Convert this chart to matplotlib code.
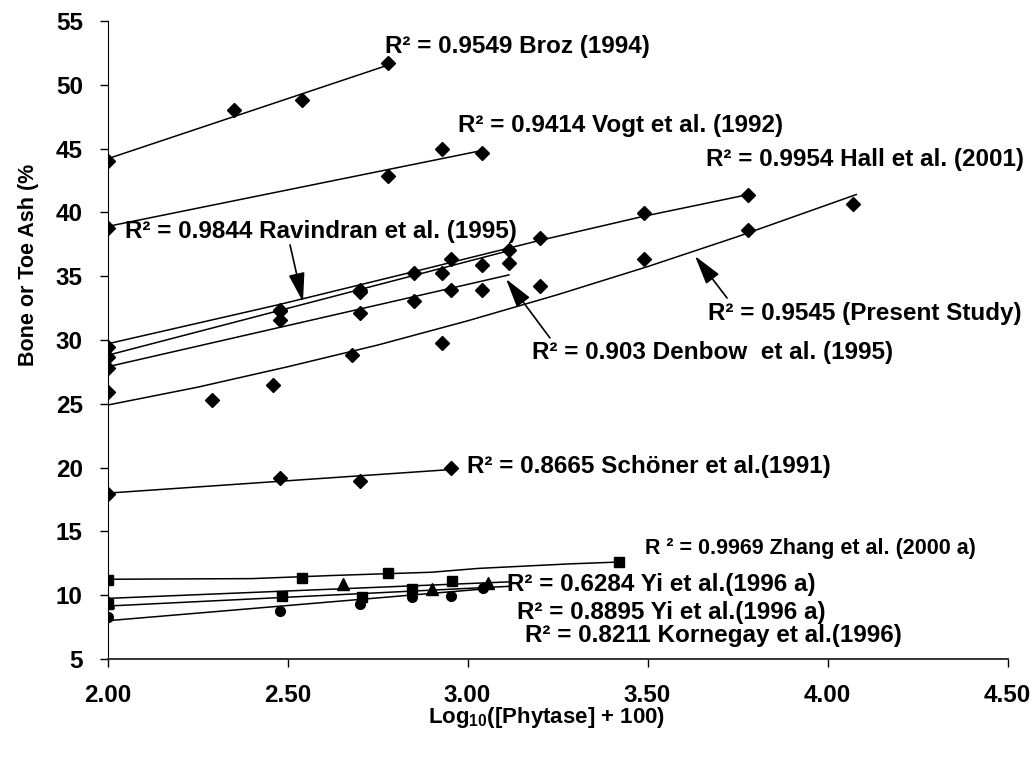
import matplotlib.pyplot as plt
import numpy as np

plt.rcParams['font.family'] = ['Liberation Sans', 'DejaVu Sans']
plt.rcParams['mathtext.fontset'] = 'custom'
plt.rcParams['mathtext.rm'] = 'Liberation Sans'
plt.rcParams['mathtext.bf'] = 'Liberation Sans:bold'

# data points (x = log10(phytase + 100), y = bone or toe ash %)
broz_x = [2.00, 2.35, 2.54, 2.78]
broz_y = [44.0, 48.0, 48.8, 51.7]
vogt_x = [2.00, 2.78, 2.93, 3.04]
vogt_y = [38.8, 42.85, 45.0, 44.65]
hall_x = [2.00, 2.48, 2.70, 2.85, 3.20, 3.49, 3.78]
hall_y = [29.45, 32.35, 33.9, 35.25, 38.0, 39.95, 41.4]
ravindran_x = [2.00, 2.48, 2.70, 2.93, 2.955, 3.04, 3.115]
ravindran_y = [28.7, 32.3, 33.8, 35.25, 36.35, 35.9, 37.05]
denbow_x = [2.00, 2.48, 2.70, 2.85, 2.955, 3.04, 3.115]
denbow_y = [27.8, 31.55, 32.1, 33.05, 33.9, 33.9, 36.0]
present_x = [2.00, 2.29, 2.46, 2.68, 2.93, 3.20, 3.49, 3.78, 4.07]
present_y = [25.9, 25.3, 26.5, 28.8, 29.75, 34.2, 36.35, 38.6, 40.65]
schoner_x = [2.00, 2.48, 2.70, 2.955]
schoner_y = [17.9, 19.15, 18.95, 19.95]
zhang_x = [2.00, 2.54, 2.78, 3.42]
zhang_y = [11.2, 11.35, 11.75, 12.6]
yi_sq_x = [2.00, 2.485, 2.707, 2.846, 2.956]
yi_sq_y = [9.3, 9.95, 9.85, 10.5, 11.1]
yi_tri_x = [2.00, 2.655, 2.90, 3.057]
yi_tri_y = [9.5, 10.9, 10.5, 10.95]
korn_x = [2.00, 2.48, 2.70, 2.846, 2.955, 3.043]
korn_y = [8.3, 8.75, 9.3, 9.85, 9.9, 10.55]

# trendlines
broz_fx, broz_fy = [2.00, 2.78], [44.2, 51.55]
vogt_fx, vogt_fy = [2.00, 3.04], [38.9, 44.85]
hall_fx = [2.00, 2.48, 2.85, 3.20, 3.49, 3.78]
hall_fy = [29.7, 32.8, 35.35, 37.8, 39.7, 41.4]
ravindran_fx, ravindran_fy = [2.00, 3.115], [28.8, 37.0]
denbow_fx, denbow_fy = [2.00, 3.115], [27.9, 35.1]
present_fx = [2.00, 2.25, 2.50, 2.75, 3.00, 3.25, 3.50, 3.75, 4.08]
present_fy = [24.9, 26.3, 27.9, 29.6, 31.5, 33.55, 35.75, 38.1, 41.4]
schoner_fx, schoner_fy = [2.00, 2.955], [18.0, 19.85]
zhang_fx = [2.00, 2.40, 2.63, 2.90, 3.03, 3.28, 3.42]
zhang_fy = [11.25, 11.3, 11.55, 11.8, 12.1, 12.45, 12.6]
yi_sq_fx, yi_sq_fy = [2.00, 3.12], [9.15, 10.7]
yi_tri_fx, yi_tri_fy = [2.00, 3.12], [9.75, 11.05]
korn_fx, korn_fy = [2.00, 3.05], [8.0, 10.5]

fig = plt.figure(figsize=(10.34, 7.59), dpi=100)
ax = fig.add_axes([0.10397, 0.13175, 0.87041, 0.84058])

diamonds = [(broz_x, broz_y), (vogt_x, vogt_y), (hall_x, hall_y),
            (ravindran_x, ravindran_y), (denbow_x, denbow_y),
            (present_x, present_y), (schoner_x, schoner_y)]
for xs, ys in diamonds:
  ax.plot(xs, ys, 'D', color='black', ms=7.5, ls='none')
ax.plot(zhang_x, zhang_y, 's', color='black', ms=7, ls='none')
ax.plot(yi_sq_x, yi_sq_y, 's', color='black', ms=7, ls='none')
ax.plot(yi_tri_x, yi_tri_y, '^', color='black', ms=8, ls='none')
ax.plot(korn_x, korn_y, 'o', color='black', ms=7, ls='none')

fits = [(broz_fx, broz_fy), (vogt_fx, vogt_fy), (hall_fx, hall_fy),
        (ravindran_fx, ravindran_fy), (denbow_fx, denbow_fy),
        (present_fx, present_fy), (schoner_fx, schoner_fy),
        (zhang_fx, zhang_fy), (yi_sq_fx, yi_sq_fy),
        (yi_tri_fx, yi_tri_fy), (korn_fx, korn_fy)]
for xs, ys in fits:
  ax.plot(xs, ys, color='black', lw=1.1)

lab = dict(fontsize=17.5, fontweight='bold', va='baseline', ha='left')
ax.text(2.771, 52.5, 'R² = 0.9549 Broz (1994)', **lab)
ax.text(2.974, 46.3, 'R² = 0.9414 Vogt et al. (1992)', **lab)
ax.text(3.663, 43.6, 'R² = 0.9954 Hall et al. (2001)', **lab)
ax.text(2.049, 37.97, 'R² = 0.9844 Ravindran et al. (1995)', **lab)
ax.text(3.668, 31.57, 'R² = 0.9545 (Present Study)', **lab)
ax.text(3.179, 28.49, 'R² = 0.903 Denbow  et al. (1995)', **lab)
ax.text(2.999, 19.6, 'R² = 0.8665 Schöner et al.(1991)', **lab)
ax.text(3.493, 13.23, 'R ² = 0.9969 Zhang et al. (2000 a)',
        fontsize=15.5, fontweight='bold', va='baseline', ha='left')
ax.text(3.11, 10.33, 'R² = 0.6284 Yi et al.(1996 a)', **lab)
ax.text(3.138, 8.11, 'R² = 0.8895 Yi et al.(1996 a)', **lab)
ax.text(3.16, 6.36, 'R² = 0.8211 Kornegay et al.(1996)', **lab)

arrow = dict(arrowstyle='-|>,head_length=0.9,head_width=0.25',
             color='black', lw=1.2, mutation_scale=20, shrinkA=0, shrinkB=0)
ax.annotate('', xy=(2.543, 32.98), xytext=(2.507, 37.45), arrowprops=arrow)
ax.annotate('', xy=(3.632, 36.58), xytext=(3.721, 33.29), arrowprops=arrow)
ax.annotate('', xy=(3.107, 34.78), xytext=(3.229, 30.16), arrowprops=arrow)

ax.set_xlim(2.0, 4.5)
ax.set_ylim(5, 55)
ax.set_xticks(np.arange(2.0, 4.51, 0.5))
ax.set_xticklabels(['%.2f' % v for v in np.arange(2.0, 4.51, 0.5)])
ax.set_yticks(np.arange(5, 56, 5))
ax.tick_params(direction='out', length=5.8, width=1, labelsize=17.5)
ax.tick_params(axis='y', pad=12)
ax.tick_params(axis='x', pad=12)
for t in ax.get_xticklabels() + ax.get_yticklabels():
  t.set_fontweight('bold')
ax.spines['top'].set_visible(False)
ax.spines['right'].set_visible(False)
ax.spines['bottom'].set_color('#333333')
ax.spines['bottom'].set_linewidth(1.4)

fig.text(547 / 1034, 1 - 717 / 759, r'Log$_{\mathbf{10}}$([Phytase] + 100)',
         fontsize=16, fontweight='bold', ha='center', va='center')
fig.text(29 / 1034, 1 - 265 / 759, 'Bone or Toe Ash (%', fontsize=15.5,
         fontweight='bold', rotation=90, ha='center', va='center')

plt.savefig('out.png', dpi=100)
